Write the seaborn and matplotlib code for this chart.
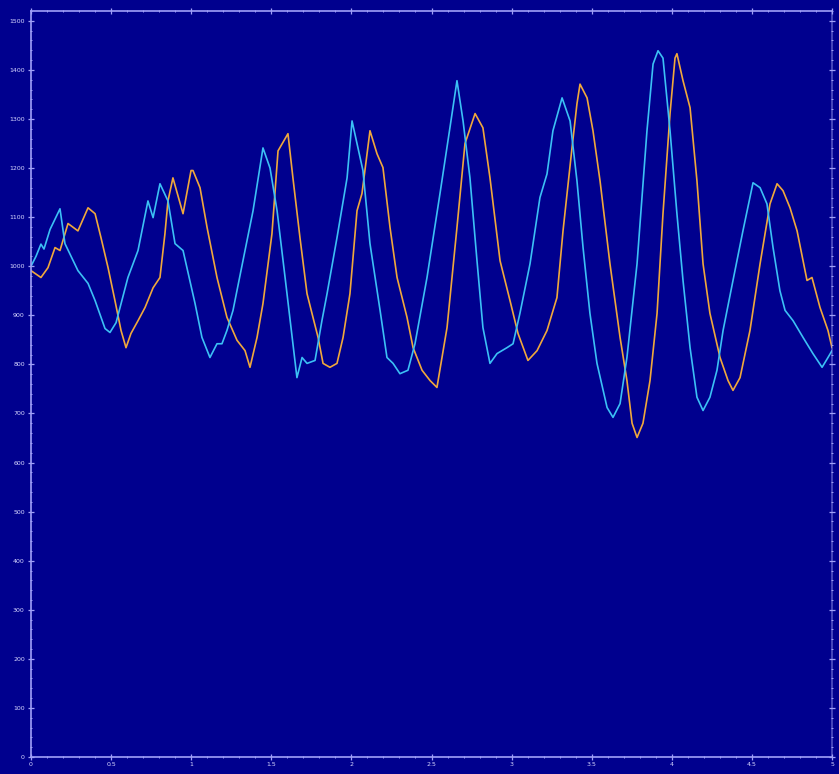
import pandas as pd
import matplotlib.pyplot as plt
from matplotlib.ticker import MultipleLocator, FormatStrFormatter
import seaborn as sns

# cyan series (time, value)
cyan_t = [0.000, 0.031, 0.062, 0.081, 0.119, 0.181, 0.212, 0.293, 0.356, 0.400,
          0.462, 0.493, 0.531, 0.605, 0.668, 0.730, 0.762, 0.805, 0.855, 0.899,
          0.949, 1.024, 1.067, 1.117, 1.161, 1.192, 1.223, 1.261, 1.323, 1.386,
          1.448, 1.492, 1.536, 1.586, 1.635, 1.660, 1.692, 1.723, 1.773, 1.816,
          1.848, 1.910, 1.973, 2.004, 2.072, 2.116, 2.179, 2.222, 2.260, 2.303,
          2.353, 2.397, 2.472, 2.553, 2.615, 2.659, 2.697, 2.740, 2.784, 2.821,
          2.865, 2.909, 2.971, 3.009, 3.052, 3.115, 3.177, 3.221, 3.258, 3.315,
          3.365, 3.408, 3.446, 3.489, 3.533, 3.596, 3.633, 3.677, 3.720, 3.783,
          3.845, 3.883, 3.914, 3.945, 3.989, 4.032, 4.070, 4.114, 4.157, 4.195,
          4.238, 4.282, 4.320, 4.382, 4.444, 4.507, 4.551, 4.594, 4.632, 4.675,
          4.707, 4.757, 4.819, 4.881, 4.938, 4.975, 5.000]
cyan_v = [1000, 1020, 1045, 1035, 1075, 1117, 1046, 991, 965, 930,
          873, 865, 885, 977, 1032, 1133, 1099, 1168, 1133, 1046,
          1032, 924, 855, 814, 842, 842, 869, 910, 1011, 1113,
          1241, 1200, 1113, 977, 842, 773, 814, 802, 808, 889,
          944, 1058, 1180, 1296, 1195, 1046, 910, 814, 802, 781,
          788, 842, 977, 1148, 1282, 1378, 1296, 1180, 1011, 875,
          802, 822, 834, 842, 904, 1005, 1140, 1188, 1276, 1343,
          1296, 1174, 1038, 904, 802, 712, 692, 720, 814, 1005,
          1276, 1412, 1439, 1424, 1276, 1107, 971, 834, 733, 706,
          733, 788, 869, 971, 1072, 1170, 1160, 1127, 1038, 950,
          910, 889, 855, 822, 794, 814, 828]

# orange series (time, value)
orange_t = [0.000, 0.062, 0.106, 0.150, 0.181, 0.231, 0.293, 0.356, 0.400, 0.437,
            0.481, 0.524, 0.562, 0.593, 0.624, 0.668, 0.712, 0.762, 0.805, 0.836,
            0.855, 0.886, 0.949, 0.999, 1.011, 1.055, 1.099, 1.161, 1.223, 1.286,
            1.336, 1.367, 1.411, 1.448, 1.504, 1.542, 1.604, 1.635, 1.679, 1.723,
            1.760, 1.792, 1.823, 1.866, 1.910, 1.948, 1.991, 2.035, 2.066, 2.116,
            2.160, 2.197, 2.241, 2.285, 2.347, 2.385, 2.441, 2.491, 2.534, 2.597,
            2.659, 2.709, 2.772, 2.821, 2.865, 2.928, 2.990, 3.040, 3.102, 3.159,
            3.221, 3.283, 3.321, 3.377, 3.408, 3.427, 3.471, 3.508, 3.552, 3.614,
            3.677, 3.720, 3.752, 3.783, 3.820, 3.864, 3.908, 3.945, 3.989, 4.020,
            4.032, 4.070, 4.114, 4.157, 4.195, 4.238, 4.301, 4.351, 4.382, 4.426,
            4.488, 4.551, 4.613, 4.657, 4.694, 4.738, 4.782, 4.844, 4.875, 4.925,
            4.975, 5.000]
orange_v = [991, 977, 997, 1038, 1032, 1087, 1072, 1119, 1107, 1058,
            997, 930, 869, 834, 863, 889, 916, 956, 977, 1066,
            1133, 1180, 1107, 1195, 1195, 1160, 1079, 977, 896, 849,
            828, 794, 855, 924, 1066, 1235, 1270, 1180, 1058, 944,
            896, 855, 802, 794, 802, 855, 944, 1113, 1148, 1276,
            1229, 1201, 1079, 977, 896, 834, 788, 767, 753, 875,
            1079, 1250, 1311, 1282, 1180, 1011, 930, 863, 808, 828,
            869, 936, 1072, 1241, 1331, 1371, 1343, 1276, 1174, 1005,
            855, 767, 680, 651, 680, 767, 904, 1107, 1311, 1424,
            1433, 1378, 1323, 1174, 1005, 904, 814, 767, 747, 773,
            869, 1005, 1127, 1168, 1154, 1119, 1072, 971, 977, 916,
            869, 834]

bg = '#00008e'
axis_col = '#a0a0f8'
label_col = '#d8d8ff'

sns.set_theme(style="dark", rc={
    'figure.facecolor': bg,
    'axes.facecolor': bg,
    'axes.edgecolor': axis_col,
    'axes.linewidth': 1.2,
    'xtick.color': axis_col,
    'ytick.color': axis_col,
})
plt.rcParams['font.family'] = ['DejaVu Sans']

fig = plt.figure(figsize=(8.39, 7.74), dpi=100)
ax = fig.add_axes([31 / 839, 17 / 774, 801 / 839, 746 / 774])

df_cyan = pd.DataFrame({'t': cyan_t, 'v': cyan_v})
df_orange = pd.DataFrame({'t': orange_t, 'v': orange_v})

sns.lineplot(x='t', y='v', data=df_orange, ax=ax, color='#f0a83c',
             linewidth=1.2, estimator=None, sort=False)
sns.lineplot(x='t', y='v', data=df_cyan, ax=ax, color='#3cc0f5',
             linewidth=1.2, estimator=None, sort=False)

ax.set_xlim(0, 5)
ax.set_ylim(0, 1520)
ax.set_xlabel('')
ax.set_ylabel('')

# ticks on all four sides
ax.xaxis.set_major_locator(MultipleLocator(0.5))
ax.xaxis.set_minor_locator(MultipleLocator(0.1))
ax.yaxis.set_major_locator(MultipleLocator(100))
ax.yaxis.set_minor_locator(MultipleLocator(20))
ax.xaxis.set_major_formatter(FormatStrFormatter('%g'))
ax.tick_params(which='both', top=True, right=True, bottom=True, left=True,
               direction='inout', labelsize=4.5, labelcolor=label_col)
ax.tick_params(which='major', length=5, width=0.9)
ax.tick_params(which='minor', length=2, width=0.7)
ax.tick_params(axis='x', pad=1)
ax.tick_params(axis='y', pad=2)
for s in ax.spines.values():
    s.set_visible(True)
    s.set_color(axis_col)
ax.spines['right'].set_alpha(0.5)

plt.savefig('out.png', dpi=100, facecolor=bg)
